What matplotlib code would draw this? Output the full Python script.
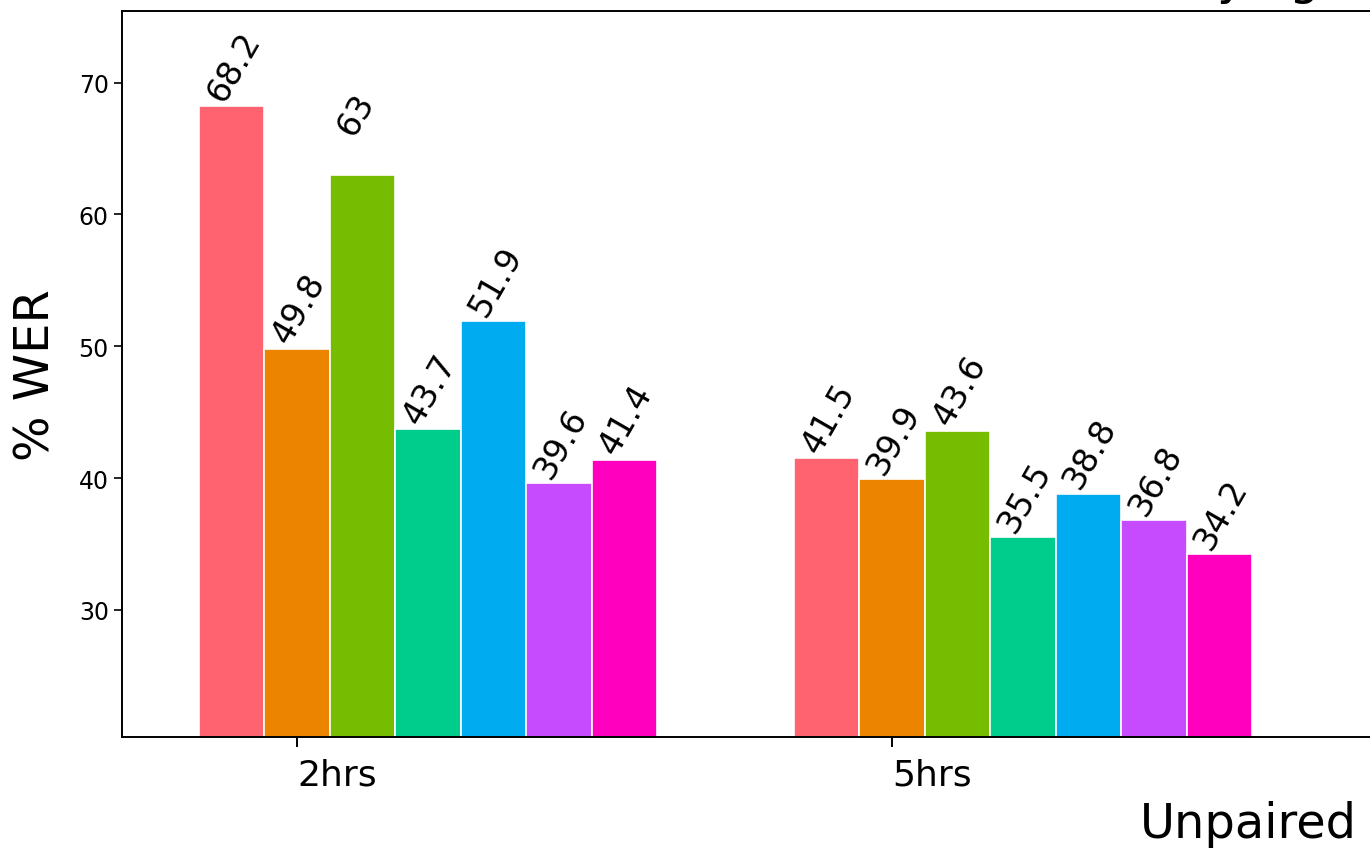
import matplotlib
matplotlib.use("Agg")
import matplotlib.pyplot as plt
import numpy as np

groups = ["2hrs", "5hrs"]
series_values = [
    [68.2, 41.5],
    [49.8, 39.9],
    [63.0, 43.6],
    [43.7, 35.5],
    [51.9, 38.8],
    [39.6, 36.8],
    [41.4, 34.2],
]
bar_labels = [
    ["68.2", "41.5"],
    ["49.8", "39.9"],
    ["63", "43.6"],
    ["43.7", "35.5"],
    ["51.9", "38.8"],
    ["39.6", "36.8"],
    ["41.4", "34.2"],
]
colors = ["#FF6370", "#EC8400", "#76BC00", "#00CC8C", "#00ABEF", "#C64BFF", "#FF00BF"]
yticks = [30, 40, 50, 60, 70]

W, H = 1370, 854
fig = plt.figure(figsize=(W / 100, H / 100), dpi=100)
ax_left, ax_right, ax_top, ax_bottom = 122, 1390, 12, 738
ax = fig.add_axes([ax_left / W, 1 - ax_bottom / H, (ax_right - ax_left) / W, (ax_bottom - ax_top) / H])

x = np.arange(len(groups))
w = 0.11
for i, (vals, labs, c) in enumerate(zip(series_values, bar_labels, colors)):
    pos = x + (i - 1) * w
    ax.bar(pos, vals, width=w, color=c, edgecolor="white", linewidth=1.2)
    for p, v, s in zip(pos, vals, labs):
        extra = 2.6 if s == "63" else 0.0
        ax.text(p - w / 2 + 0.003, v + extra, s, rotation=60, ha="left", va="bottom",
                fontsize=24, rotation_mode="default")

px_per_unit = 595
ax.set_xlim(-(297 - ax_left) / px_per_unit, (ax_right - 297) / px_per_unit)
ax.set_ylim(20.35, 75.44)
ax.set_xticks(x)
ax.set_xticklabels(groups, fontsize=26, ha="left")
ax.set_yticks(yticks)
ax.tick_params(axis="y", labelsize=17, length=6, width=1.2)
ax.tick_params(axis="x", length=7, width=1.4, pad=8)
for sp in ax.spines.values():
    sp.set_linewidth(1.4)
ax.set_ylabel("% WER", fontsize=34.5, labelpad=14)

fig.text(1357 / W, 1 - 838 / H, "Unpaired", ha="right", va="baseline", fontsize=34.5)
fig.text(1320 / W, 1 + 6 / H, "Varying", ha="right", va="baseline", fontsize=34.5)

fig.savefig("out.png", dpi=100)
